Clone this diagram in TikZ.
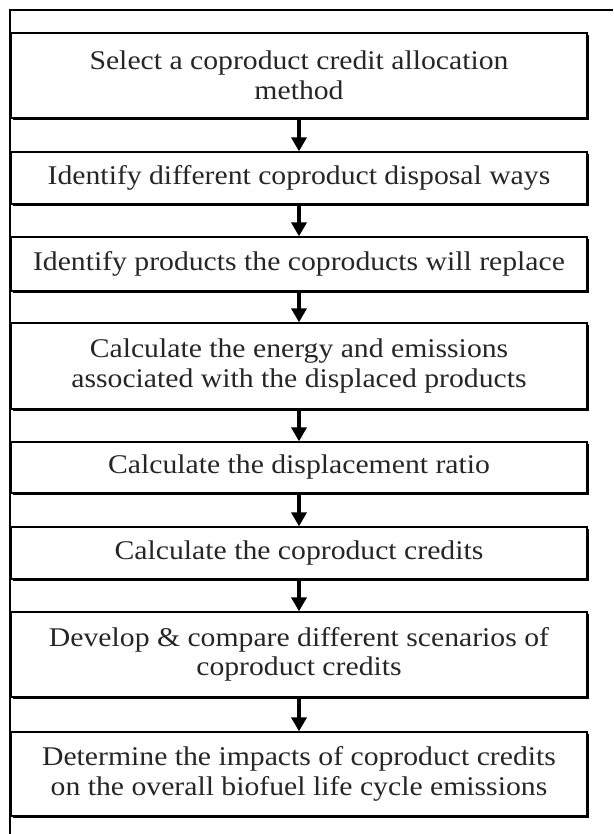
\documentclass[tikz,border=0pt]{standalone}
\usepackage{fontspec}
\setmainfont{Liberation Serif}
\newfontfamily\boxfont[FakeStretch=1.1]{Liberation Serif}
\usetikzlibrary{arrows.meta}
\begin{document}
\begin{tikzpicture}[x=1pt,y=-1pt,
  stepbox/.style={draw=black,line width=1.3pt,fill=white,minimum width=576pt,
    inner sep=0pt,align=center,font=\boxfont\fontsize{27}{29.5}\selectfont,
    text=black!85},
  flow/.style={line width=3.6pt,-{Triangle[width=15pt,length=14pt]}}]
\useasboundingbox (0,0) rectangle (613,834);
% outer frame (top and left only)
\draw[line width=1.2pt] (613,10) -- (10,10) -- (10,834);
% steps, positioned by centre
\def\stepnode#1#2#3#4{%
  \fill[black] (11+1.6,#2-#3/2+1.6) rectangle (587+1.6,#2+#3/2+1.6);
  \node[stepbox,minimum height=#3 pt] (#1) at (299,#2) {#4};}
\stepnode{s1}{75.5}{85}{Select a coproduct credit allocation\\method}
\stepnode{s2}{178}{52}{Identify different coproduct disposal ways}
\stepnode{s3}{264}{54}{Identify products the coproducts will replace}
\stepnode{s4}{366}{86}{Calculate the energy and emissions\\associated with the displaced products}
\stepnode{s5}{467.5}{51}{Calculate the displacement ratio}
\stepnode{s6}{553}{52}{Calculate the coproduct credits}
\stepnode{s7}{654.5}{85}{Develop \& compare different scenarios of\\coproduct credits}
\stepnode{s8}{774}{84}{Determine the impacts of coproduct credits\\on the overall biofuel life cycle emissions}
% connectors
\foreach \a/\b in {s1/s2,s2/s3,s3/s4,s4/s5,s5/s6,s6/s7,s7/s8}
  \draw[flow] (\a.south) -- (\b.north);
\end{tikzpicture}
\end{document}
